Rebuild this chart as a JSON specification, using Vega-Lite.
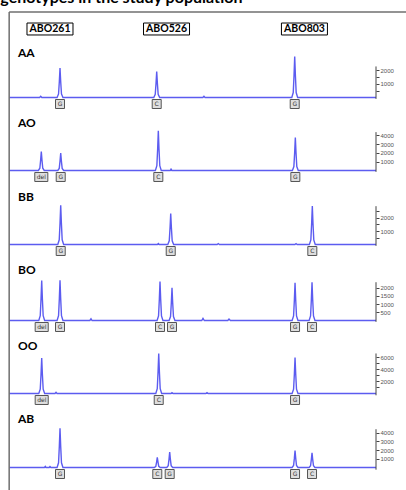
{
  "$schema": "https://vega.github.io/schema/vega-lite/v6.json",
  "padding": 0,
  "spacing": 0,
  "bounds": "flush",
  "config": {"view": {"stroke": null}, "concat": {"spacing": 0},
    "axisY": {"title": null, "domain": false, "grid": false, "format": "d", "tickSize": 3, "tickColor": "#444", "tickWidth": 1, "labelFontSize": 6, "labelColor": "#555", "labelFont": "Liberation Sans", "labelPadding": 1, "labelBaseline": "middle", "labelFlush": false, "labelOverlap": false}},
  "resolve": {"scale": {"x": "independent", "y": "independent"}},
  "datasets": {
    "trace": [
      {"g":"AA","s":80,"v":0},{"g":"AA","s":88.3,"v":0},{"g":"AA","s":88.6,"v":90},{"g":"AA","s":88.9,"v":0},
      {"g":"AA","s":93.06,"v":0},{"g":"AA","s":93.46,"v":262},{"g":"AA","s":93.68,"v":1199},{"g":"AA","s":93.86,"v":2180},{"g":"AA","s":94.04,"v":1199},{"g":"AA","s":94.26,"v":262},{"g":"AA","s":94.66,"v":0},
      {"g":"AA","s":119.42,"v":0},{"g":"AA","s":119.82,"v":232},{"g":"AA","s":120.04,"v":1062},{"g":"AA","s":120.22,"v":1930},{"g":"AA","s":120.4,"v":1062},{"g":"AA","s":120.62,"v":232},{"g":"AA","s":121.02,"v":0},
      {"g":"AA","s":132.8,"v":0},{"g":"AA","s":133.1,"v":90},{"g":"AA","s":133.4,"v":0},
      {"g":"AA","s":157.04,"v":0},{"g":"AA","s":157.44,"v":365},{"g":"AA","s":157.66,"v":1672},{"g":"AA","s":157.84,"v":3040},{"g":"AA","s":158.02,"v":1672},{"g":"AA","s":158.24,"v":365},{"g":"AA","s":158.64,"v":0},
      {"g":"AA","s":180,"v":0},

      {"g":"AO","s":80,"v":0},
      {"g":"AO","s":87.96,"v":0},{"g":"AO","s":88.36,"v":259},{"g":"AO","s":88.58,"v":1188},{"g":"AO","s":88.76,"v":2160},{"g":"AO","s":88.94,"v":1188},{"g":"AO","s":89.16,"v":259},{"g":"AO","s":89.56,"v":0},
      {"g":"AO","s":93.25,"v":0},{"g":"AO","s":93.65,"v":238},{"g":"AO","s":93.87,"v":1089},{"g":"AO","s":94.05,"v":1980},{"g":"AO","s":94.23,"v":1089},{"g":"AO","s":94.45,"v":238},{"g":"AO","s":94.85,"v":0},
      {"g":"AO","s":119.86,"v":0},{"g":"AO","s":120.26,"v":541},{"g":"AO","s":120.48,"v":2481},{"g":"AO","s":120.66,"v":4510},{"g":"AO","s":120.84,"v":2481},{"g":"AO","s":121.06,"v":541},{"g":"AO","s":121.46,"v":0},
      {"g":"AO","s":123.9,"v":0},{"g":"AO","s":124.12,"v":150},{"g":"AO","s":124.35,"v":0},
      {"g":"AO","s":157.21,"v":0},{"g":"AO","s":157.61,"v":450},{"g":"AO","s":157.83,"v":2063},{"g":"AO","s":158.01,"v":3750},{"g":"AO","s":158.19,"v":2063},{"g":"AO","s":158.41,"v":450},{"g":"AO","s":158.81,"v":0},
      {"g":"AO","s":180,"v":0},

      {"g":"BB","s":80,"v":0},
      {"g":"BB","s":93.25,"v":0},{"g":"BB","s":93.65,"v":352},{"g":"BB","s":93.87,"v":1612},{"g":"BB","s":94.05,"v":2930},{"g":"BB","s":94.23,"v":1612},{"g":"BB","s":94.45,"v":352},{"g":"BB","s":94.85,"v":0},
      {"g":"BB","s":120.4,"v":0},{"g":"BB","s":120.66,"v":70},{"g":"BB","s":120.9,"v":0},
      {"g":"BB","s":123.24,"v":0},{"g":"BB","s":123.64,"v":277},{"g":"BB","s":123.86,"v":1271},{"g":"BB","s":124.04,"v":2310},{"g":"BB","s":124.22,"v":1271},{"g":"BB","s":124.44,"v":277},{"g":"BB","s":124.84,"v":0},
      {"g":"BB","s":136.7,"v":0},{"g":"BB","s":137.0,"v":70},{"g":"BB","s":137.3,"v":0},
      {"g":"BB","s":157.9,"v":0},{"g":"BB","s":158.2,"v":70},{"g":"BB","s":158.5,"v":0},
      {"g":"BB","s":161.84,"v":0},{"g":"BB","s":162.24,"v":346},{"g":"BB","s":162.46,"v":1584},{"g":"BB","s":162.64,"v":2880},{"g":"BB","s":162.82,"v":1584},{"g":"BB","s":163.04,"v":346},{"g":"BB","s":163.44,"v":0},
      {"g":"BB","s":180,"v":0},

      {"g":"BO","s":80,"v":0},
      {"g":"BO","s":88.07,"v":0},{"g":"BO","s":88.47,"v":290},{"g":"BO","s":88.69,"v":1331},{"g":"BO","s":88.87,"v":2420},{"g":"BO","s":89.05,"v":1331},{"g":"BO","s":89.27,"v":290},{"g":"BO","s":89.67,"v":0},
      {"g":"BO","s":93.06,"v":0},{"g":"BO","s":93.46,"v":293},{"g":"BO","s":93.68,"v":1342},{"g":"BO","s":93.86,"v":2440},{"g":"BO","s":94.04,"v":1342},{"g":"BO","s":94.26,"v":293},{"g":"BO","s":94.66,"v":0},
      {"g":"BO","s":102.0,"v":0},{"g":"BO","s":102.31,"v":100},{"g":"BO","s":102.6,"v":0},
      {"g":"BO","s":120.32,"v":0},{"g":"BO","s":120.72,"v":283},{"g":"BO","s":120.94,"v":1298},{"g":"BO","s":121.12,"v":2360},{"g":"BO","s":121.3,"v":1298},{"g":"BO","s":121.52,"v":283},{"g":"BO","s":121.92,"v":0},
      {"g":"BO","s":123.59,"v":0},{"g":"BO","s":123.99,"v":238},{"g":"BO","s":124.21,"v":1089},{"g":"BO","s":124.39,"v":1980},{"g":"BO","s":124.57,"v":1089},{"g":"BO","s":124.79,"v":238},{"g":"BO","s":125.19,"v":0},
      {"g":"BO","s":132.5,"v":0},{"g":"BO","s":132.84,"v":130},{"g":"BO","s":133.2,"v":0},
      {"g":"BO","s":139.6,"v":0},{"g":"BO","s":139.93,"v":90},{"g":"BO","s":140.3,"v":0},
      {"g":"BO","s":157.13,"v":0},{"g":"BO","s":157.53,"v":274},{"g":"BO","s":157.75,"v":1254},{"g":"BO","s":157.93,"v":2280},{"g":"BO","s":158.11,"v":1254},{"g":"BO","s":158.33,"v":274},{"g":"BO","s":158.73,"v":0},
      {"g":"BO","s":161.76,"v":0},{"g":"BO","s":162.16,"v":278},{"g":"BO","s":162.38,"v":1276},{"g":"BO","s":162.56,"v":2320},{"g":"BO","s":162.74,"v":1276},{"g":"BO","s":162.96,"v":278},{"g":"BO","s":163.36,"v":0},
      {"g":"BO","s":180,"v":0},

      {"g":"OO","s":80,"v":0},
      {"g":"OO","s":88.07,"v":0},{"g":"OO","s":88.47,"v":712},{"g":"OO","s":88.69,"v":3262},{"g":"OO","s":88.87,"v":5930},{"g":"OO","s":89.05,"v":3262},{"g":"OO","s":89.27,"v":712},{"g":"OO","s":89.67,"v":0},
      {"g":"OO","s":92.5,"v":0},{"g":"OO","s":92.77,"v":200},{"g":"OO","s":93.05,"v":0},
      {"g":"OO","s":119.97,"v":0},{"g":"OO","s":120.37,"v":800},{"g":"OO","s":120.59,"v":3669},{"g":"OO","s":120.77,"v":6670},{"g":"OO","s":120.95,"v":3669},{"g":"OO","s":121.17,"v":800},{"g":"OO","s":121.57,"v":0},
      {"g":"OO","s":124.1,"v":0},{"g":"OO","s":124.39,"v":150},{"g":"OO","s":124.7,"v":0},
      {"g":"OO","s":133.6,"v":0},{"g":"OO","s":133.93,"v":150},{"g":"OO","s":134.25,"v":0},
      {"g":"OO","s":157.13,"v":0},{"g":"OO","s":157.53,"v":720},{"g":"OO","s":157.75,"v":3300},{"g":"OO","s":157.93,"v":6000},{"g":"OO","s":158.11,"v":3300},{"g":"OO","s":158.33,"v":720},{"g":"OO","s":158.73,"v":0},
      {"g":"OO","s":180,"v":0},

      {"g":"AB","s":80,"v":0},
      {"g":"AB","s":89.6,"v":0},{"g":"AB","s":89.85,"v":120},{"g":"AB","s":90.05,"v":0},
      {"g":"AB","s":90.9,"v":0},{"g":"AB","s":91.13,"v":120},{"g":"AB","s":91.4,"v":0},
      {"g":"AB","s":93.06,"v":0},{"g":"AB","s":93.46,"v":542},{"g":"AB","s":93.68,"v":2486},{"g":"AB","s":93.86,"v":4520},{"g":"AB","s":94.04,"v":2486},{"g":"AB","s":94.26,"v":542},{"g":"AB","s":94.66,"v":0},
      {"g":"AB","s":119.58,"v":0},{"g":"AB","s":119.98,"v":142},{"g":"AB","s":120.2,"v":649},{"g":"AB","s":120.38,"v":1180},{"g":"AB","s":120.56,"v":649},{"g":"AB","s":120.78,"v":142},{"g":"AB","s":121.18,"v":0},
      {"g":"AB","s":122.96,"v":0},{"g":"AB","s":123.36,"v":211},{"g":"AB","s":123.58,"v":968},{"g":"AB","s":123.76,"v":1760},{"g":"AB","s":123.94,"v":968},{"g":"AB","s":124.16,"v":211},{"g":"AB","s":124.56,"v":0},
      {"g":"AB","s":157.13,"v":0},{"g":"AB","s":157.53,"v":234},{"g":"AB","s":157.75,"v":1073},{"g":"AB","s":157.93,"v":1950},{"g":"AB","s":158.11,"v":1073},{"g":"AB","s":158.33,"v":234},{"g":"AB","s":158.73,"v":0},
      {"g":"AB","s":161.76,"v":0},{"g":"AB","s":162.16,"v":203},{"g":"AB","s":162.38,"v":930},{"g":"AB","s":162.56,"v":1690},{"g":"AB","s":162.74,"v":930},{"g":"AB","s":162.96,"v":203},{"g":"AB","s":163.36,"v":0},
      {"g":"AB","s":180,"v":0}
    ],
    "alle": [
      {"g":"AA","s":93.86,"a":"G"},{"g":"AA","s":120.22,"a":"C"},{"g":"AA","s":157.84,"a":"G"},
      {"g":"AO","s":88.76,"a":"del"},{"g":"AO","s":94.05,"a":"G"},{"g":"AO","s":120.66,"a":"C"},{"g":"AO","s":158.01,"a":"G"},
      {"g":"BB","s":94.05,"a":"G"},{"g":"BB","s":124.04,"a":"G"},{"g":"BB","s":162.64,"a":"C"},
      {"g":"BO","s":88.87,"a":"del"},{"g":"BO","s":93.86,"a":"G"},{"g":"BO","s":121.12,"a":"C"},{"g":"BO","s":124.39,"a":"G"},{"g":"BO","s":157.93,"a":"G"},{"g":"BO","s":162.56,"a":"C"},
      {"g":"OO","s":88.87,"a":"del"},{"g":"OO","s":120.77,"a":"C"},{"g":"OO","s":157.93,"a":"G"},
      {"g":"AB","s":93.86,"a":"G"},{"g":"AB","s":120.38,"a":"C"},{"g":"AB","s":123.76,"a":"G"},{"g":"AB","s":157.93,"a":"G"},{"g":"AB","s":162.56,"a":"C"}
    ],
    "geno": [{"g":"AA"},{"g":"AO"},{"g":"BB"},{"g":"BO"},{"g":"OO"},{"g":"AB"}],
    "loci": [{"locus":"ABO261","s":91.13},{"locus":"ABO526","s":122.9},{"locus":"ABO803","s":160.5}]
  },
  "vconcat": [
    {
      "width": 406, "height": 40,
      "layer": [
        {"data": {"values": [{"t": "genotypes in the study population"}]},
         "mark": {"type": "text", "font": "Lato", "fontWeight": "bold", "fontSize": 16, "align": "left", "baseline": "alphabetic", "clip": true, "color": "#000"},
         "encoding": {
           "x": {"datum": 77.6, "type": "quantitative", "scale": {"domain": [77.5, 188.19], "nice": false, "zero": false}, "axis": null},
           "y": {"datum": 3, "type": "quantitative", "scale": {"domain": [0, 40], "reverse": true, "nice": false, "zero": false}, "axis": null},
           "text": {"field": "t"}}},
        {"data": {"values": [{}]},
         "mark": {"type": "rule", "color": "#6f6f6f", "strokeWidth": 1.5},
         "encoding": {"x": {"datum": 80, "type": "quantitative", "axis": null}, "x2": {"datum": 190}, "y": {"datum": 12, "type": "quantitative", "axis": null}}},
        {"data": {"values": [{}]},
         "mark": {"type": "rule", "color": "#6f6f6f", "strokeWidth": 1.5},
         "encoding": {"x": {"datum": 80, "type": "quantitative", "axis": null}, "y": {"datum": 12, "type": "quantitative", "axis": null}, "y2": {"datum": 40}}},
        {"data": {"name": "loci"},
         "mark": {"type": "point", "filled": true, "fill": "#ffffff", "stroke": "#000", "strokeWidth": 1, "size": 2116, "opacity": 1, "shape": "M-1,-0.26H1V0.26H-1Z"},
         "encoding": {"x": {"field": "s", "type": "quantitative", "axis": null}, "y": {"datum": 29, "type": "quantitative", "axis": null}}},
        {"data": {"name": "loci"},
         "mark": {"type": "text", "font": "Lato", "fontWeight": "bold", "fontSize": 10.5, "baseline": "middle", "color": "#000"},
         "encoding": {"x": {"field": "s", "type": "quantitative", "axis": null}, "y": {"datum": 29, "type": "quantitative", "axis": null}, "text": {"field": "locus"}}}
      ]
    },
    {
      "width": 376, "height": 73,
      "resolve": {"axis": {"y": "independent"}},
      "layer": [
        {"data": {"name": "trace"}, "transform": [{"filter": "datum.g == 'AA'"}],
         "mark": {"type": "line", "color": "#5c5cf0", "strokeWidth": 1.4},
         "encoding": {
           "x": {"field": "s", "type": "quantitative", "scale": {"domain": [77.5, 180], "nice": false, "zero": false}, "axis": null},
           "y": {"field": "v", "type": "quantitative", "scale": {"domain": [-1148, 4259], "nice": false, "zero": false},
                 "axis": {"orient": "right", "title": null, "labelOverlap": false, "labelFlush": false, "labelBound": false, "values": [500, 1000, 1500, 2000], "labelExpr": "datum.value % 1000 == 0 ? datum.label : ''"}}}},
        {"data": {"values": [{}]}, "mark": {"type": "rule", "color": "#6f6f6f", "strokeWidth": 1.5}, "encoding": {"x": {"datum": 80, "type": "quantitative", "axis": null}}},
        {"data": {"values": [{}]}, "mark": {"type": "rule", "color": "#444", "strokeWidth": 1}, "encoding": {"x": {"datum": 180, "type": "quantitative", "axis": null}, "y": {"datum": -100, "type": "quantitative", "axis": null}, "y2": {"datum": 2300}}},
        {"data": {"name": "alle"}, "transform": [{"filter": "datum.g == 'AA'"}],
         "mark": {"type": "point", "filled": true, "fill": "#dedede", "stroke": "#555", "strokeWidth": 1, "size": 81, "opacity": 1, "yOffset": 6.5},
         "encoding": {"x": {"field": "s", "type": "quantitative", "axis": null}, "y": {"datum": 0, "type": "quantitative", "axis": null},
           "shape": {"field": "a", "type": "nominal", "scale": {"domain": ["C", "G", "del"], "range": ["square", "square", "M-1.45,-1H1.45V1H-1.45Z"]}, "legend": null}}},
        {"data": {"name": "alle"}, "transform": [{"filter": "datum.g == 'AA'"}],
         "mark": {"type": "text", "fontSize": 6, "font": "DejaVu Sans", "color": "#333", "yOffset": 6.5, "baseline": "middle"},
         "encoding": {"x": {"field": "s", "type": "quantitative", "axis": null}, "y": {"datum": 0, "type": "quantitative", "axis": null}, "text": {"field": "a"}}},
        {"data": {"name": "geno"}, "transform": [{"filter": "datum.g == 'AA'"}],
         "mark": {"type": "text", "font": "Lato", "fontWeight": "bold", "fontSize": 12, "align": "left", "baseline": "middle", "color": "#000"},
         "encoding": {"x": {"datum": 82.4, "type": "quantitative", "axis": null}, "y": {"datum": 3290, "type": "quantitative", "axis": null}, "text": {"field": "g"}}}
      ]
    },
    {
      "width": 376, "height": 74,
      "resolve": {"axis": {"y": "independent"}},
      "layer": [
        {"data": {"name": "trace"}, "transform": [{"filter": "datum.g == 'AO'"}],
         "mark": {"type": "line", "color": "#5c5cf0", "strokeWidth": 1.4},
         "encoding": {
           "x": {"field": "s", "type": "quantitative", "scale": {"domain": [77.5, 180], "nice": false, "zero": false}, "axis": null},
           "y": {"field": "v", "type": "quantitative", "scale": {"domain": [-1875, 6534], "nice": false, "zero": false},
                 "axis": {"orient": "right", "title": null, "labelOverlap": false, "labelFlush": false, "labelBound": false, "values": [1000, 2000, 3000, 4000]}}}},
        {"data": {"values": [{}]}, "mark": {"type": "rule", "color": "#6f6f6f", "strokeWidth": 1.5}, "encoding": {"x": {"datum": 80, "type": "quantitative", "axis": null}}},
        {"data": {"values": [{}]}, "mark": {"type": "rule", "color": "#444", "strokeWidth": 1}, "encoding": {"x": {"datum": 180, "type": "quantitative", "axis": null}, "y": {"datum": -150, "type": "quantitative", "axis": null}, "y2": {"datum": 4360}}},
        {"data": {"name": "alle"}, "transform": [{"filter": "datum.g == 'AO'"}],
         "mark": {"type": "point", "filled": true, "fill": "#dedede", "stroke": "#555", "strokeWidth": 1, "size": 81, "opacity": 1, "yOffset": 6.5},
         "encoding": {"x": {"field": "s", "type": "quantitative", "axis": null}, "y": {"datum": 0, "type": "quantitative", "axis": null},
           "shape": {"field": "a", "type": "nominal", "scale": {"domain": ["C", "G", "del"], "range": ["square", "square", "M-1.45,-1H1.45V1H-1.45Z"]}, "legend": null}}},
        {"data": {"name": "alle"}, "transform": [{"filter": "datum.g == 'AO'"}],
         "mark": {"type": "text", "fontSize": 6, "font": "DejaVu Sans", "color": "#333", "yOffset": 6.5, "baseline": "middle"},
         "encoding": {"x": {"field": "s", "type": "quantitative", "axis": null}, "y": {"datum": 0, "type": "quantitative", "axis": null}, "text": {"field": "a"}}},
        {"data": {"name": "geno"}, "transform": [{"filter": "datum.g == 'AO'"}],
         "mark": {"type": "text", "font": "Lato", "fontWeight": "bold", "fontSize": 12, "align": "left", "baseline": "middle", "color": "#000"},
         "encoding": {"x": {"datum": 82.4, "type": "quantitative", "axis": null}, "y": {"datum": 5390, "type": "quantitative", "axis": null}, "text": {"field": "g"}}}
      ]
    },
    {
      "width": 376, "height": 76,
      "resolve": {"axis": {"y": "independent"}},
      "layer": [
        {"data": {"name": "trace"}, "transform": [{"filter": "datum.g == 'BB'"}],
         "mark": {"type": "line", "color": "#5c5cf0", "strokeWidth": 1.4},
         "encoding": {
           "x": {"field": "s", "type": "quantitative", "scale": {"domain": [77.5, 180], "nice": false, "zero": false}, "axis": null},
           "y": {"field": "v", "type": "quantitative", "scale": {"domain": [-1381, 4291], "nice": false, "zero": false},
                 "axis": {"orient": "right", "title": null, "labelOverlap": false, "labelFlush": false, "labelBound": false, "values": [500, 1000, 1500, 2000, 2500], "labelExpr": "datum.value % 1000 == 0 ? datum.label : ''"}}}},
        {"data": {"values": [{}]}, "mark": {"type": "rule", "color": "#6f6f6f", "strokeWidth": 1.5}, "encoding": {"x": {"datum": 80, "type": "quantitative", "axis": null}}},
        {"data": {"values": [{}]}, "mark": {"type": "rule", "color": "#444", "strokeWidth": 1}, "encoding": {"x": {"datum": 180, "type": "quantitative", "axis": null}, "y": {"datum": -100, "type": "quantitative", "axis": null}, "y2": {"datum": 2860}}},
        {"data": {"name": "alle"}, "transform": [{"filter": "datum.g == 'BB'"}],
         "mark": {"type": "point", "filled": true, "fill": "#dedede", "stroke": "#555", "strokeWidth": 1, "size": 81, "opacity": 1, "yOffset": 6.5},
         "encoding": {"x": {"field": "s", "type": "quantitative", "axis": null}, "y": {"datum": 0, "type": "quantitative", "axis": null},
           "shape": {"field": "a", "type": "nominal", "scale": {"domain": ["C", "G", "del"], "range": ["square", "square", "M-1.45,-1H1.45V1H-1.45Z"]}, "legend": null}}},
        {"data": {"name": "alle"}, "transform": [{"filter": "datum.g == 'BB'"}],
         "mark": {"type": "text", "fontSize": 6, "font": "DejaVu Sans", "color": "#333", "yOffset": 6.5, "baseline": "middle"},
         "encoding": {"x": {"field": "s", "type": "quantitative", "axis": null}, "y": {"datum": 0, "type": "quantitative", "axis": null}, "text": {"field": "a"}}},
        {"data": {"name": "geno"}, "transform": [{"filter": "datum.g == 'BB'"}],
         "mark": {"type": "text", "font": "Lato", "fontWeight": "bold", "fontSize": 12, "align": "left", "baseline": "middle", "color": "#000"},
         "encoding": {"x": {"datum": 82.4, "type": "quantitative", "axis": null}, "y": {"datum": 3530, "type": "quantitative", "axis": null}, "text": {"field": "g"}}}
      ]
    },
    {
      "width": 376, "height": 73,
      "resolve": {"axis": {"y": "independent"}},
      "layer": [
        {"data": {"name": "trace"}, "transform": [{"filter": "datum.g == 'BO'"}],
         "mark": {"type": "line", "color": "#5c5cf0", "strokeWidth": 1.4},
         "encoding": {
           "x": {"field": "s", "type": "quantitative", "scale": {"domain": [77.5, 180], "nice": false, "zero": false}, "axis": null},
           "y": {"field": "v", "type": "quantitative", "scale": {"domain": [-939, 3485], "nice": false, "zero": false},
                 "axis": {"orient": "right", "title": null, "labelOverlap": false, "labelFlush": false, "labelBound": false, "values": [500, 1000, 1500, 2000]}}}},
        {"data": {"values": [{}]}, "mark": {"type": "rule", "color": "#6f6f6f", "strokeWidth": 1.5}, "encoding": {"x": {"datum": 80, "type": "quantitative", "axis": null}}},
        {"data": {"values": [{}]}, "mark": {"type": "rule", "color": "#444", "strokeWidth": 1}, "encoding": {"x": {"datum": 180, "type": "quantitative", "axis": null}, "y": {"datum": -80, "type": "quantitative", "axis": null}, "y2": {"datum": 2320}}},
        {"data": {"name": "alle"}, "transform": [{"filter": "datum.g == 'BO'"}],
         "mark": {"type": "point", "filled": true, "fill": "#dedede", "stroke": "#555", "strokeWidth": 1, "size": 81, "opacity": 1, "yOffset": 6.5},
         "encoding": {"x": {"field": "s", "type": "quantitative", "axis": null}, "y": {"datum": 0, "type": "quantitative", "axis": null},
           "shape": {"field": "a", "type": "nominal", "scale": {"domain": ["C", "G", "del"], "range": ["square", "square", "M-1.45,-1H1.45V1H-1.45Z"]}, "legend": null}}},
        {"data": {"name": "alle"}, "transform": [{"filter": "datum.g == 'BO'"}],
         "mark": {"type": "text", "fontSize": 6, "font": "DejaVu Sans", "color": "#333", "yOffset": 6.5, "baseline": "middle"},
         "encoding": {"x": {"field": "s", "type": "quantitative", "axis": null}, "y": {"datum": 0, "type": "quantitative", "axis": null}, "text": {"field": "a"}}},
        {"data": {"name": "geno"}, "transform": [{"filter": "datum.g == 'BO'"}],
         "mark": {"type": "text", "font": "Lato", "fontWeight": "bold", "fontSize": 12, "align": "left", "baseline": "middle", "color": "#000"},
         "encoding": {"x": {"datum": 82.4, "type": "quantitative", "axis": null}, "y": {"datum": 3090, "type": "quantitative", "axis": null}, "text": {"field": "g"}}}
      ]
    },
    {
      "width": 376, "height": 74,
      "resolve": {"axis": {"y": "independent"}},
      "layer": [
        {"data": {"name": "trace"}, "transform": [{"filter": "datum.g == 'OO'"}],
         "mark": {"type": "line", "color": "#5c5cf0", "strokeWidth": 1.4},
         "encoding": {
           "x": {"field": "s", "type": "quantitative", "scale": {"domain": [77.5, 180], "nice": false, "zero": false}, "axis": null},
           "y": {"field": "v", "type": "quantitative", "scale": {"domain": [-2750, 9583], "nice": false, "zero": false},
                 "axis": {"orient": "right", "title": null, "labelOverlap": false, "labelFlush": false, "labelBound": false, "values": [1000, 2000, 3000, 4000, 5000, 6000], "labelExpr": "datum.value % 2000 == 0 ? datum.label : ''"}}}},
        {"data": {"values": [{}]}, "mark": {"type": "rule", "color": "#6f6f6f", "strokeWidth": 1.5}, "encoding": {"x": {"datum": 80, "type": "quantitative", "axis": null}}},
        {"data": {"values": [{}]}, "mark": {"type": "rule", "color": "#444", "strokeWidth": 1}, "encoding": {"x": {"datum": 180, "type": "quantitative", "axis": null}, "y": {"datum": -300, "type": "quantitative", "axis": null}, "y2": {"datum": 6670}}},
        {"data": {"name": "alle"}, "transform": [{"filter": "datum.g == 'OO'"}],
         "mark": {"type": "point", "filled": true, "fill": "#dedede", "stroke": "#555", "strokeWidth": 1, "size": 81, "opacity": 1, "yOffset": 6.5},
         "encoding": {"x": {"field": "s", "type": "quantitative", "axis": null}, "y": {"datum": 0, "type": "quantitative", "axis": null},
           "shape": {"field": "a", "type": "nominal", "scale": {"domain": ["C", "G", "del"], "range": ["square", "square", "M-1.45,-1H1.45V1H-1.45Z"]}, "legend": null}}},
        {"data": {"name": "alle"}, "transform": [{"filter": "datum.g == 'OO'"}],
         "mark": {"type": "text", "fontSize": 6, "font": "DejaVu Sans", "color": "#333", "yOffset": 6.5, "baseline": "middle"},
         "encoding": {"x": {"field": "s", "type": "quantitative", "axis": null}, "y": {"datum": 0, "type": "quantitative", "axis": null}, "text": {"field": "a"}}},
        {"data": {"name": "geno"}, "transform": [{"filter": "datum.g == 'OO'"}],
         "mark": {"type": "text", "font": "Lato", "fontWeight": "bold", "fontSize": 12, "align": "left", "baseline": "middle", "color": "#000"},
         "encoding": {"x": {"datum": 82.4, "type": "quantitative", "axis": null}, "y": {"datum": 7930, "type": "quantitative", "axis": null}, "text": {"field": "g"}}}
      ]
    },
    {
      "width": 376, "height": 80,
      "resolve": {"axis": {"y": "independent"}},
      "layer": [
        {"data": {"name": "trace"}, "transform": [{"filter": "datum.g == 'AB'"}],
         "mark": {"type": "line", "color": "#5c5cf0", "strokeWidth": 1.4},
         "encoding": {
           "x": {"field": "s", "type": "quantitative", "scale": {"domain": [77.5, 180], "nice": false, "zero": false}, "axis": null},
           "y": {"field": "v", "type": "quantitative", "scale": {"domain": [-2586, 6609], "nice": false, "zero": false},
                 "axis": {"orient": "right", "title": null, "labelOverlap": false, "labelFlush": false, "labelBound": false, "values": [1000, 2000, 3000, 4000]}}}},
        {"data": {"values": [{}]}, "mark": {"type": "rule", "color": "#6f6f6f", "strokeWidth": 1.5}, "encoding": {"x": {"datum": 80, "type": "quantitative", "axis": null}}},
        {"data": {"values": [{}]}, "mark": {"type": "rule", "color": "#444", "strokeWidth": 1}, "encoding": {"x": {"datum": 180, "type": "quantitative", "axis": null}, "y": {"datum": -250, "type": "quantitative", "axis": null}, "y2": {"datum": 4400}}},
        {"data": {"name": "alle"}, "transform": [{"filter": "datum.g == 'AB'"}],
         "mark": {"type": "point", "filled": true, "fill": "#dedede", "stroke": "#555", "strokeWidth": 1, "size": 81, "opacity": 1, "yOffset": 6.5},
         "encoding": {"x": {"field": "s", "type": "quantitative", "axis": null}, "y": {"datum": 0, "type": "quantitative", "axis": null},
           "shape": {"field": "a", "type": "nominal", "scale": {"domain": ["C", "G", "del"], "range": ["square", "square", "M-1.45,-1H1.45V1H-1.45Z"]}, "legend": null}}},
        {"data": {"name": "alle"}, "transform": [{"filter": "datum.g == 'AB'"}],
         "mark": {"type": "text", "fontSize": 6, "font": "DejaVu Sans", "color": "#333", "yOffset": 6.5, "baseline": "middle"},
         "encoding": {"x": {"field": "s", "type": "quantitative", "axis": null}, "y": {"datum": 0, "type": "quantitative", "axis": null}, "text": {"field": "a"}}},
        {"data": {"name": "geno"}, "transform": [{"filter": "datum.g == 'AB'"}],
         "mark": {"type": "text", "font": "Lato", "fontWeight": "bold", "fontSize": 12, "align": "left", "baseline": "middle", "color": "#000"},
         "encoding": {"x": {"datum": 82.4, "type": "quantitative", "axis": null}, "y": {"datum": 5630, "type": "quantitative", "axis": null}, "text": {"field": "g"}}}
      ]
    }
  ]
}
